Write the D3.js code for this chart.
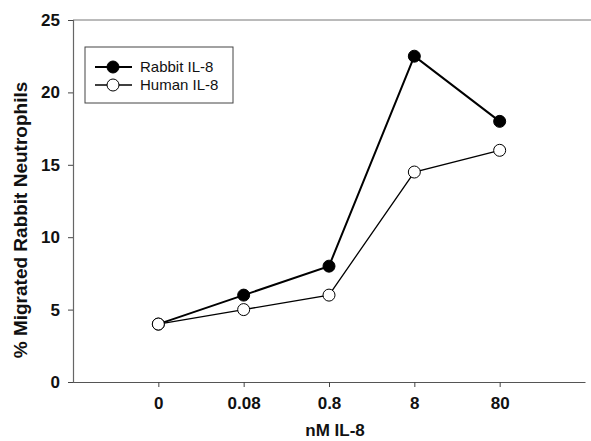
<!DOCTYPE html>
<html>
<head>
<meta charset="utf-8">
<script src="https://cdn.jsdelivr.net/npm/d3@7"></script>
<style>
  body { margin: 0; background: #fff; }
  svg { display: block; font-family: Arial, "Liberation Sans", sans-serif; }
</style>
</head>
<body>
<div id="chart"></div>
<script>
// data
const doses = ["0", "0.08", "0.8", "8", "80"];
const rabbitIL8 = [4, 6, 8, 22.5, 18];
const humanIL8 = [4, 5, 6, 14.5, 16];
const yTicks = [0, 5, 10, 15, 20, 25];

const width = 591, height = 441;
const margin = {top: 20, right: 6, bottom: 59, left: 73};

const svg = d3.select("#chart").append("svg")
    .attr("width", width)
    .attr("height", height);

// scales: categories evenly spaced, one empty slot each side
const x = d3.scaleLinear()
    .domain([-1, doses.length])
    .range([margin.left, width - margin.right]);

const y = d3.scaleLinear()
    .domain([0, 25])
    .range([height - margin.bottom, margin.top]);

// frame top line (faint)
svg.append("line")
    .attr("x1", margin.left).attr("x2", width)
    .attr("y1", y(25)).attr("y2", y(25))
    .attr("stroke", "#777").attr("stroke-width", 1);

// y axis
const yAxis = svg.append("g")
    .attr("transform", `translate(${margin.left},0)`)
    .call(d3.axisLeft(y).tickValues(yTicks).tickSize(5).tickPadding(8));
yAxis.select(".domain").attr("stroke", "#666").attr("stroke-width", 1.2);
yAxis.selectAll(".tick line").attr("stroke", "#444");
yAxis.selectAll("text")
    .style("font-size", "17px")
    .style("font-weight", "bold")
    .attr("fill", "#111");

// x axis
const xAxis = svg.append("g")
    .attr("transform", `translate(0,${y(0)})`)
    .call(d3.axisBottom(x)
        .tickValues(d3.range(doses.length))
        .tickFormat(i => doses[i])
        .tickSize(5)
        .tickSizeOuter(0)
        .tickPadding(10));
xAxis.select(".domain").attr("stroke", "#555").attr("stroke-width", 1.2);
xAxis.selectAll(".tick line").attr("stroke", "#444");
xAxis.selectAll("text")
    .style("font-size", "17px")
    .style("font-weight", "bold")
    .attr("fill", "#111");

// axis titles
svg.append("text")
    .attr("transform", `translate(27,${(y(0) + y(25)) / 2 + 19}) rotate(-90)`)
    .attr("text-anchor", "middle")
    .style("font-size", "19px")
    .style("font-weight", "bold")
    .attr("fill", "#111")
    .text("% Migrated Rabbit Neutrophils");

svg.append("text")
    .attr("x", x(2) + 6)
    .attr("y", height - 5)
    .attr("text-anchor", "middle")
    .style("font-size", "17px")
    .style("font-weight", "bold")
    .attr("fill", "#111")
    .text("nM IL-8");

const line = d3.line()
    .x((d, i) => x(i))
    .y(d => y(d));

const series = [
    {name: "Human IL-8", values: humanIL8, fill: "#fff", width: 1.3},
    {name: "Rabbit IL-8", values: rabbitIL8, fill: "#000", width: 2}
];

series.forEach(s => {
    svg.append("path")
        .datum(s.values)
        .attr("fill", "none")
        .attr("stroke", "#000")
        .attr("stroke-width", s.width)
        .attr("d", line);
});

// markers: rabbit first so human open circle at 0 sits on top
[series[1], series[0]].forEach(s => {
    svg.append("g").selectAll("circle")
        .data(s.values)
        .join("circle")
        .attr("cx", (d, i) => x(i))
        .attr("cy", d => y(d))
        .attr("r", 6)
        .attr("fill", s.fill)
        .attr("stroke", "#000")
        .attr("stroke-width", 1);
});

// legend
const legend = svg.append("g").attr("transform", "translate(85,47)");
legend.append("rect")
    .attr("width", 148).attr("height", 56)
    .attr("fill", "#fff")
    .attr("stroke", "#444").attr("stroke-width", 1);

const legendItems = [
    {name: "Rabbit IL-8", fill: "#000", width: 2},
    {name: "Human IL-8", fill: "#fff", width: 1.3}
];
legendItems.forEach((s, i) => {
    const g = legend.append("g").attr("transform", `translate(0,${20 + i * 18})`);
    g.append("line")
        .attr("x1", 10).attr("x2", 47)
        .attr("stroke", "#000").attr("stroke-width", s.width);
    g.append("circle")
        .attr("cx", 28).attr("r", 6)
        .attr("fill", s.fill).attr("stroke", "#000");
    g.append("text")
        .attr("x", 55).attr("dy", "0.35em")
        .style("font-size", "15px")
        .attr("fill", "#111")
        .text(s.name);
});
</script>
</body>
</html>
